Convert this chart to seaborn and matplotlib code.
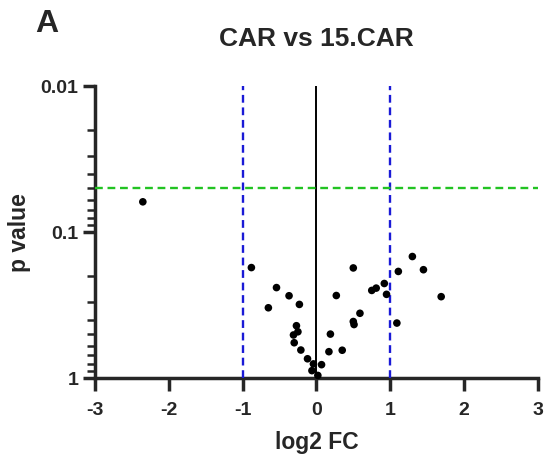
import numpy as np
import pandas as pd
import matplotlib
matplotlib.use("Agg")
import matplotlib.pyplot as plt
import seaborn as sns
from matplotlib.ticker import LogLocator, FixedLocator, FixedFormatter, NullFormatter

# --- data ---
log2_fc = [-2.35, -0.88, -0.54, -0.65, -0.37, -0.23, -0.27, -0.25, -0.31, -0.30,
           -0.21, -0.12, -0.04, -0.06,
           1.30, 0.50, 1.11, 1.45, 0.92, 0.81, 0.75, 0.95, 0.27, 1.69,
           0.59, 0.50, 0.51, 1.09, 0.19, 0.17, 0.35, 0.07, 0.02]
p_value = [0.062, 0.175, 0.240, 0.33, 0.273, 0.313, 0.438, 0.482, 0.507, 0.573,
           0.643, 0.738, 0.80, 0.89,
           0.147, 0.176, 0.186, 0.181, 0.225, 0.242, 0.251, 0.267, 0.272, 0.277,
           0.36, 0.41, 0.43, 0.42, 0.50, 0.66, 0.645, 0.81, 0.96]

fc_cutoffs = [-1, 1]
p_cutoff = 0.05
x_ticks = [-3, -2, -1, 0, 1, 2, 3]
y_ticks = [0.01, 0.1, 1]
y_tick_labels = ["0.01", "0.1", "1"]

df = pd.DataFrame({"log2FC": log2_fc, "p": p_value})

sns.set_style("ticks")
plt.rcParams["font.family"] = ["Liberation Sans", "DejaVu Sans"]
plt.rcParams["font.weight"] = "bold"
plt.rcParams["axes.unicode_minus"] = False

fig = plt.figure(figsize=(5.45, 4.61), dpi=100)
ax = fig.add_axes([0.174, 0.180, 0.813, 0.633])

sns.scatterplot(data=df, x="log2FC", y="p", ax=ax, color="black", s=30,
                edgecolor="none", zorder=5, clip_on=False)

ax.set_yscale("log")
ax.set_xlim(-3, 3)
ax.set_ylim(1, 0.01)

# reference lines
ax.axvline(0, color="black", lw=1.4, zorder=3)
for c in fc_cutoffs:
    ax.axvline(c, color="#1a1ad6", lw=1.7, ls=(0, (3.3, 2)), zorder=3)
ax.axhline(p_cutoff, color="#22c322", lw=1.7, ls=(0, (3.3, 2)), zorder=3)

# axes styling (prism-like)
for side in ["top", "right"]:
    ax.spines[side].set_visible(False)
for side in ["left", "bottom"]:
    ax.spines[side].set_linewidth(2.5)

ax.xaxis.set_major_locator(FixedLocator(x_ticks))
ax.yaxis.set_major_locator(FixedLocator(y_ticks))
ax.yaxis.set_major_formatter(FixedFormatter(y_tick_labels))
ax.yaxis.set_minor_locator(LogLocator(base=10, subs=np.arange(2, 10)))
ax.yaxis.set_minor_formatter(NullFormatter())
ax.tick_params(axis="both", which="major", length=9, width=2.5, labelsize=14)
ax.tick_params(axis="x", which="major", pad=8)
ax.tick_params(axis="y", which="major", pad=3)
ax.tick_params(axis="y", which="minor", length=5.5, width=1.8)
for lab in ax.get_xticklabels() + ax.get_yticklabels():
    lab.set_fontweight("bold")

ax.set_xlabel("log2 FC", fontsize=16.5, fontweight="bold", labelpad=9)
ax.set_ylabel("p value", fontsize=16.5, fontweight="bold", labelpad=7)
ax.set_title("CAR vs 15.CAR", fontsize=19, fontweight="bold", pad=29)

fig.text(0.064, 0.93, "A", fontsize=23, fontweight="bold")

fig.savefig("out.png", dpi=100)
